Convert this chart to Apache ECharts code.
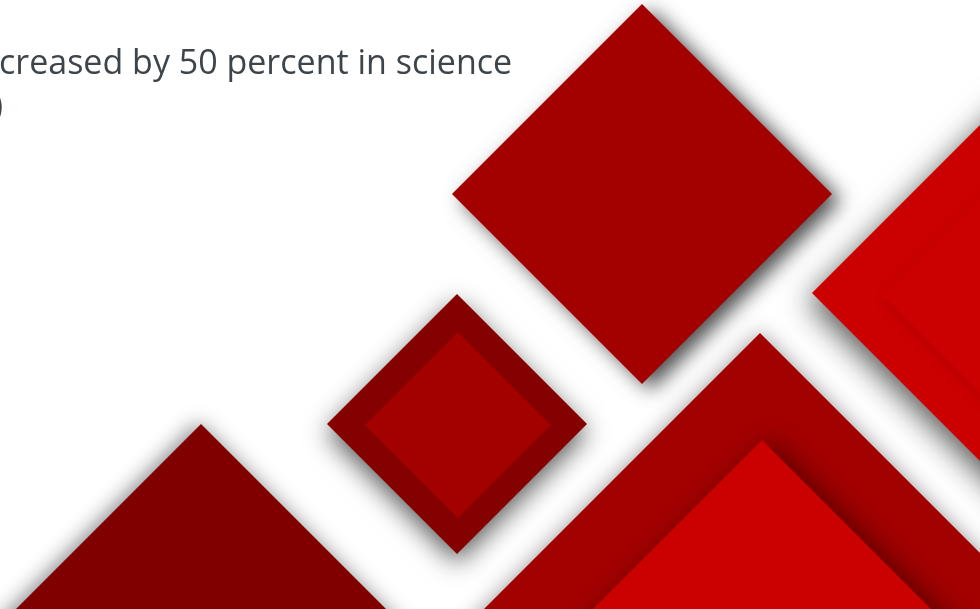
<!DOCTYPE html>
<html>
<head>
<meta charset="utf-8">
<script src="https://cdn.jsdelivr.net/npm/echarts@6/dist/echarts.min.js"></script>
<style>
html,body{margin:0;padding:0;background:#ffffff;}
#chart{width:980px;height:609px;}
</style>
</head>
<body>
<div id="chart"></div>
<script>
// Diamond shapes (data space = slide coordinates)
const diamondNames = ['bottomLeft', 'smallOuter', 'smallInner', 'topBig', 'rightOuter', 'rightInner', 'bottomRightOuter', 'bottomRightInner'];
const centerX = [201, 457, 458, 642, 1072, 1072, 760, 762];
const centerY = [684, 424, 425, 194, 293, 295, 633, 633];
const halfDiagonal = [260, 130, 93, 190, 260, 190, 300, 193];
const textLines = ['creased by 50 percent in science', ')'];

// styles by shape index
const fills = ['#800000', '#850000', '#a30000', '#a30000', '#cb0000', '#cb0000', '#a30000', '#cb0000'];
const shadows = [
  {blur: 20, color: 'rgba(0,0,0,0.45)', ox: -3, oy: -2},
  {blur: 26, color: 'rgba(0,0,0,0.65)', ox: 0, oy: 9},
  {blur: 0, color: 'rgba(0,0,0,0)', ox: 0, oy: 0},
  {blur: 20, color: 'rgba(0,0,0,0.7)', ox: 9, oy: 6},
  {blur: 30, color: 'rgba(0,0,0,0.65)', ox: -4, oy: 9},
  {blur: 14, color: 'rgba(0,0,0,0.12)', ox: 2, oy: 4},
  {blur: 20, color: 'rgba(0,0,0,0.35)', ox: 0, oy: -2},
  {blur: 26, color: 'rgba(0,0,0,0.4)', ox: 10, oy: 0}
];

const data = diamondNames.map((n, i) => [centerX[i], centerY[i], halfDiagonal[i], i]);

const chart = echarts.init(document.getElementById('chart'), null, {renderer: 'canvas'});
chart.setOption({
  animation: false,
  backgroundColor: '#ffffff',
  grid: {left: 0, right: 0, top: 0, bottom: 0},
  xAxis: {type: 'value', min: 0, max: 980, show: false},
  yAxis: {type: 'value', min: 0, max: 609, inverse: true, show: false},
  series: [{
    type: 'custom',
    clip: false,
    data: data,
    renderItem: function (params, api) {
      const cx = api.value(0), cy = api.value(1), r = api.value(2), k = api.value(3);
      const pts = [[cx, cy - r], [cx + r, cy], [cx, cy + r], [cx - r, cy]].map(p => api.coord(p));
      const s = shadows[k];
      return {
        type: 'polygon',
        shape: {points: pts},
        style: {
          fill: fills[k],
          shadowBlur: s.blur,
          shadowColor: s.color,
          shadowOffsetX: s.ox,
          shadowOffsetY: s.oy
        }
      };
    }
  }],
  graphic: [
    {type: 'text', z: 10, style: {text: textLines[0], x: -1, y: 47, fill: '#3d444a', font: '400 34px "Open Sans"'}},
    {type: 'text', z: 10, style: {text: textLines[1], x: -7, y: 90, fill: '#3d444a', font: '400 34px "Open Sans"'}}
  ]
});
</script>
</body>
</html>
